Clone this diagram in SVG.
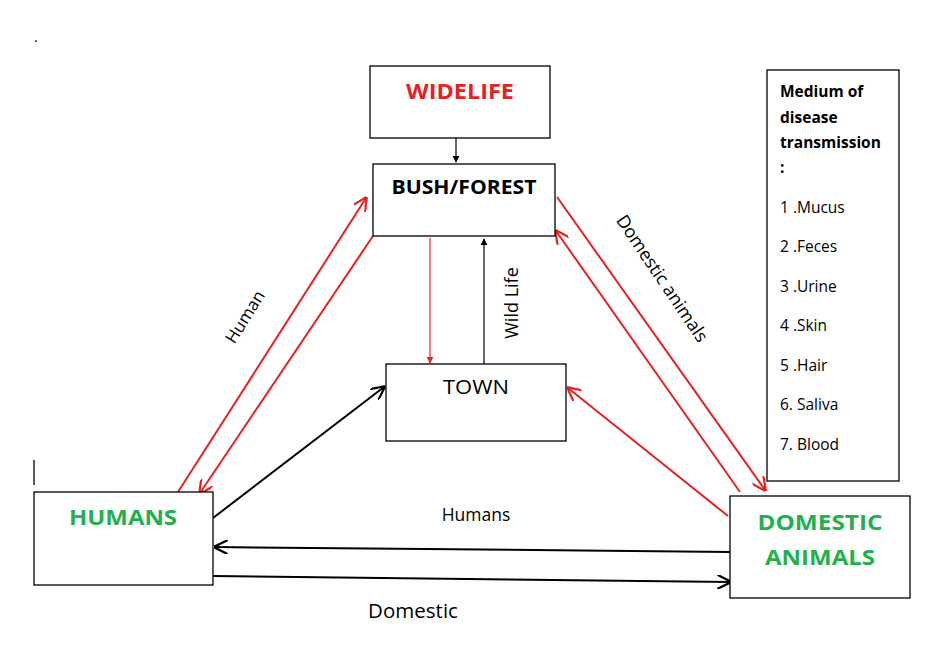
<svg xmlns="http://www.w3.org/2000/svg" width="941" height="646" viewBox="0 0 941 646">
<style>
.box{fill:#fff;stroke:#000;stroke-width:1.3}
.t{font-family:"Open Sans","Liberation Sans",sans-serif}
.b{font-weight:bold}
.r{stroke:#e8201f;stroke-width:2;fill:none}
.k{stroke:#000;stroke-width:2;fill:none}
.k1{stroke:#000;stroke-width:1.2;fill:none}
</style>
<defs>
<marker id="ar" viewBox="0 0 10 10" refX="9" refY="5" markerWidth="7" markerHeight="7" orient="auto"><path d="M0,0L10,5L0,10" fill="none" stroke="#e8201f" stroke-width="1.6"/></marker>
<marker id="ak" viewBox="0 0 10 10" refX="9" refY="5" markerWidth="7" markerHeight="7" orient="auto"><path d="M0,0L10,5L0,10" fill="none" stroke="#000" stroke-width="1.6"/></marker>
<marker id="akf" viewBox="0 0 10 10" refX="9" refY="5" markerWidth="6" markerHeight="6" orient="auto"><path d="M0,0L10,5L0,10z" fill="#000"/></marker>
<marker id="arf" viewBox="0 0 10 10" refX="9" refY="5" markerWidth="6" markerHeight="6" orient="auto"><path d="M0,0L10,5L0,10z" fill="#e8201f"/></marker>
</defs>
<rect width="941" height="646" fill="#fff"/>
<text x="34" y="42" class="t" font-size="14">.</text>
<line x1="34" y1="460" x2="34" y2="485" stroke="#000" stroke-width="1.3"/>
<g id="connectors">
<line x1="456" y1="138" x2="456" y2="162" class="k1" marker-end="url(#akf)"/>
<line x1="178" y1="492" x2="366" y2="198" class="r" marker-end="url(#ar)"/>
<line x1="373" y1="236" x2="200" y2="493" class="r" marker-end="url(#ar)"/>
<line x1="430" y1="238" x2="430" y2="363" style="stroke:#e8201f;stroke-width:1.2" marker-end="url(#arf)"/>
<line x1="484" y1="364" x2="484" y2="239" class="k1" marker-end="url(#akf)"/>
<line x1="213" y1="518" x2="384" y2="387" class="k" marker-end="url(#ak)"/>
<line x1="557" y1="197" x2="765" y2="490" class="r" marker-end="url(#ar)"/>
<line x1="740" y1="492" x2="556" y2="231" class="r" marker-end="url(#ar)"/>
<line x1="728" y1="516" x2="568" y2="388" class="r" marker-end="url(#ar)"/>
<line x1="730" y1="552" x2="215" y2="547" class="k" marker-end="url(#ak)"/>
<line x1="213" y1="576" x2="730" y2="582" class="k" marker-end="url(#ak)"/>
</g>
<g id="labels" class="t">
<text transform="translate(250,320) rotate(-58)" text-anchor="middle" font-size="17">Human</text>
<text transform="translate(518,303) rotate(-90)" text-anchor="middle" font-size="18">Wild Life</text>
<text transform="translate(657,282) rotate(56)" text-anchor="middle" font-size="18">Domestic animals</text>
<text x="476" y="521" text-anchor="middle" font-size="17.5">Humans</text>
<text x="413" y="618" text-anchor="middle" font-size="20.5">Domestic</text>
</g>
<g id="wildlife"><rect class="box" x="370" y="66" width="180" height="72"/><text x="460" y="99" class="t b" font-size="22" fill="#e8201f" text-anchor="middle" textLength="108" lengthAdjust="spacingAndGlyphs">WIDELIFE</text></g>
<g id="bush"><rect class="box" x="373" y="164" width="182" height="72"/><text x="464" y="194" class="t b" font-size="19" text-anchor="middle" textLength="145" lengthAdjust="spacingAndGlyphs">BUSH/FOREST</text></g>
<g id="town"><rect class="box" x="386" y="364" width="180" height="77"/><text x="476" y="394" class="t" font-size="20" text-anchor="middle" textLength="66" lengthAdjust="spacingAndGlyphs">TOWN</text></g>
<g id="humans"><rect class="box" x="34" y="492" width="179" height="93"/><text x="123" y="525" class="t b" font-size="21" fill="#22b04b" text-anchor="middle" textLength="108" lengthAdjust="spacingAndGlyphs">HUMANS</text></g>
<g id="domestic"><rect class="box" x="730" y="496" width="180" height="102"/><text x="820" y="530" class="t b" font-size="21" fill="#22b04b" text-anchor="middle" textLength="125" lengthAdjust="spacingAndGlyphs">DOMESTIC</text><text x="820" y="565" class="t b" font-size="21" fill="#22b04b" text-anchor="middle" textLength="110" lengthAdjust="spacingAndGlyphs">ANIMALS</text></g>
<g id="legend"><rect class="box" x="767" y="70" width="132" height="411"/>
<g class="t" font-size="15.5"><text x="780" y="97" class="b">Medium of</text><text x="780" y="123" class="b">disease</text><text x="780" y="148" class="b">transmission</text><text x="780" y="173" class="b">:</text>
<text x="780" y="213">1 .Mucus</text><text x="780" y="252">2 .Feces</text><text x="780" y="292">3 .Urine</text><text x="780" y="331">4 .Skin</text><text x="780" y="371">5 .Hair</text><text x="780" y="410">6. Saliva</text><text x="780" y="450">7. Blood</text></g></g>
</svg>
